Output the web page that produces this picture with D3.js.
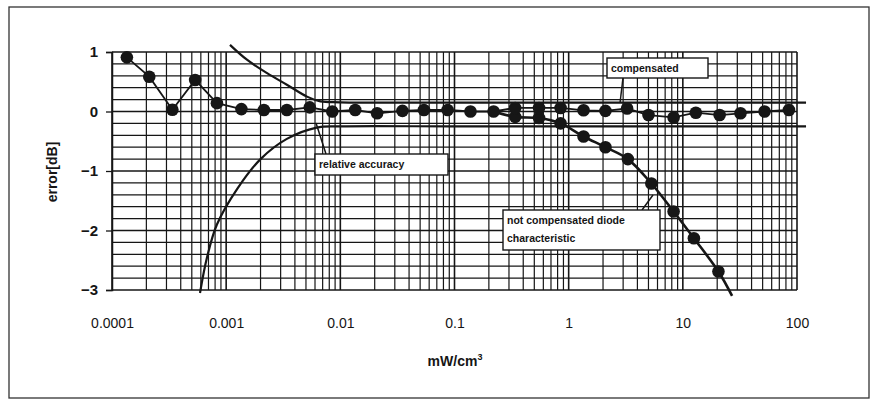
<!DOCTYPE html>
<html><head><meta charset="utf-8">
<script src="https://cdn.jsdelivr.net/npm/d3@7"></script>
<style>
html,body{margin:0;padding:0;background:#fff;}
svg{display:block;}
text{font-family:"Liberation Sans",Arial,sans-serif;fill:#151515;}
</style></head>
<body>
<svg id="chart" width="876" height="404"></svg>
<script>
// ---- data ----
const xTicks = [0.0001, 0.001, 0.01, 0.1, 1, 10, 100];
const xTickLabels = ["0.0001", "0.001", "0.01", "0.1", "1", "10", "100"];
const yTicks = [1, 0, -1, -2, -3];

const compX = [0.000135,0.000212,0.000338,0.000535,0.00083,0.00136,0.00214,0.0034,0.0054,0.0085,0.0135,0.021,0.035,0.054,0.087,0.138,0.22,0.34,0.55,0.85,1.35,2.1,3.25,5.0,8.3,13,21,32,52,85];
const compY = [0.91,0.585,0.03,0.53,0.14,0.04,0.025,0.025,0.07,0.0,0.025,-0.03,0.01,0.025,0.025,0.0,0.0,0.06,0.06,0.06,0.02,0.01,0.05,-0.06,-0.1,-0.02,-0.06,-0.03,0.0,0.025];

const uncompX = [0.34,0.55,0.85,1.35,2.1,3.3,5.3,8.3,12.5,20.5];
const uncompY = [-0.09,-0.11,-0.2,-0.42,-0.6,-0.8,-1.21,-1.68,-2.13,-2.69];
const uncompLineX = [0.22,0.34,0.55,0.85,1.35,2.1,3.3,5.3,8.3,12.5,20.5,27];
const uncompLineY = [0.0,-0.09,-0.11,-0.2,-0.42,-0.6,-0.8,-1.21,-1.68,-2.13,-2.69,-3.1];

const accUpX = [0.00108,0.00152,0.0023,0.0034,0.0051,0.0067,0.01,0.1,1,10,120];
const accUpY = [1.12,0.87,0.64,0.45,0.25,0.17,0.155,0.15,0.15,0.15,0.15];
const accLoX = [0.00059,0.00068,0.00083,0.00125,0.002,0.0034,0.0062,0.01,0.1,1,10,120];
const accLoY = [-3.05,-2.45,-1.9,-1.3,-0.8,-0.46,-0.27,-0.25,-0.25,-0.25,-0.25,-0.25];

const labels = [
  {lines:["compensated"], box:[607,58,708,78], ptr:[623,78,620,103]},
  {lines:["relative accuracy"], box:[315,154,448,175], ptr:[326,154,316,123]},
  {lines:["not compensated diode","characteristic"], box:[503,210,660,250], ptr:[642,210,653,195]}
];

// ---- chart ----
const svg = d3.select("#chart");
const L = 112, R = 797, T = 52, B = 290;
const x = d3.scaleLog().domain([0.0001, 100]).range([L, R]);
const y = d3.scaleLinear().domain([-3, 1]).range([B, T]);
const ink = "#161616";

// outer frame
svg.append("rect").attr("x", 9).attr("y", 7).attr("width", 860).attr("height", 391)
  .attr("fill", "none").attr("stroke", "#333").attr("stroke-width", 1.3);

// grid
const g = svg.append("g");
const minorX = [];
for (let e = -4; e < 2; e++) for (let m = 1; m <= 9; m++) minorX.push(m * Math.pow(10, e));
minorX.push(100);
g.selectAll("line.vx").data(minorX).enter().append("line")
  .attr("x1", d => x(d)).attr("x2", d => x(d)).attr("y1", T).attr("y2", B)
  .attr("stroke", ink).attr("stroke-width", d => xTicks.includes(d) ? 1.6 : 1.2);
const hy = d3.range(0, 21).map(i => -3 + i * 0.2);
g.selectAll("line.hy").data(hy).enter().append("line")
  .attr("x1", L).attr("x2", R).attr("y1", d => y(d)).attr("y2", d => y(d))
  .attr("stroke", ink).attr("stroke-width", 1.3);

// axes
const ax = svg.append("g").attr("transform", `translate(0,${B})`)
  .call(d3.axisBottom(x).tickValues(xTicks).tickFormat((d, i) => xTickLabels[i]).tickSize(0).tickPadding(28));
ax.select(".domain").remove();
ax.selectAll("text").style("font-size", "14px").attr("fill", ink);
const ay = svg.append("g").attr("transform", `translate(${L},0)`)
  .call(d3.axisLeft(y).tickValues(yTicks).tickFormat(d3.format("d")).tickSize(6).tickPadding(8));
ay.select(".domain").attr("stroke", ink).attr("stroke-width", 1.5);
ay.selectAll("line").attr("stroke", ink).attr("stroke-width", 1.3);
ay.selectAll("text").style("font-size", "15px").style("font-weight", "bold").attr("fill", ink);

// axis titles
svg.append("text").attr("transform", "translate(57,172) rotate(-90)").attr("text-anchor", "middle")
  .style("font-size", "14px").style("font-weight", "bold").text("error[dB]");
const xt = svg.append("text").attr("x", 455).attr("y", 366).attr("text-anchor", "middle")
  .style("font-size", "14px").style("font-weight", "bold");
xt.append("tspan").text("mW/cm");
xt.append("tspan").attr("dy", -6).style("font-size", "9px").text("3");

// curves
const smooth = d3.line().x(d => x(d[0])).y(d => y(d[1])).curve(d3.curveCatmullRom.alpha(0.5));
svg.append("path").datum(d3.zip(accUpX, accUpY)).attr("d", smooth)
  .attr("fill", "none").attr("stroke", ink).attr("stroke-width", 2.2);
svg.append("path").datum(d3.zip(accLoX, accLoY)).attr("d", smooth)
  .attr("fill", "none").attr("stroke", ink).attr("stroke-width", 2.2);
svg.append("path").datum(d3.zip(uncompLineX, uncompLineY)).attr("d", smooth)
  .attr("fill", "none").attr("stroke", ink).attr("stroke-width", 2.6);
svg.append("path").datum(d3.zip(compX, compY))
  .attr("d", d3.line().x(d => x(d[0])).y(d => y(d[1])))
  .attr("fill", "none").attr("stroke", ink).attr("stroke-width", 1.8);

// markers
svg.append("g").selectAll("circle").data(d3.zip(uncompX, uncompY)).enter().append("circle")
  .attr("cx", d => x(d[0])).attr("cy", d => y(d[1])).attr("r", 6.3).attr("fill", ink);
svg.append("g").selectAll("circle").data(d3.zip(compX, compY)).enter().append("circle")
  .attr("cx", d => x(d[0])).attr("cy", d => y(d[1])).attr("r", 6.3).attr("fill", ink);

// callout labels
labels.forEach(lb => {
  svg.append("line").attr("x1", lb.ptr[0]).attr("y1", lb.ptr[1]).attr("x2", lb.ptr[2]).attr("y2", lb.ptr[3])
    .attr("stroke", ink).attr("stroke-width", 1.5);
  const [x0, y0, x1, y1] = lb.box;
  svg.append("rect").attr("x", x0).attr("y", y0).attr("width", x1 - x0).attr("height", y1 - y0)
    .attr("fill", "#fff").attr("stroke", ink).attr("stroke-width", 1.4);
  lb.lines.forEach((t, i) => {
    svg.append("text").attr("x", x0 + 4).attr("y", y0 + 14 + i * 18)
      .style("font-size", "10.5px").style("font-weight", "bold").text(t);
  });
});
</script>
</body></html>
